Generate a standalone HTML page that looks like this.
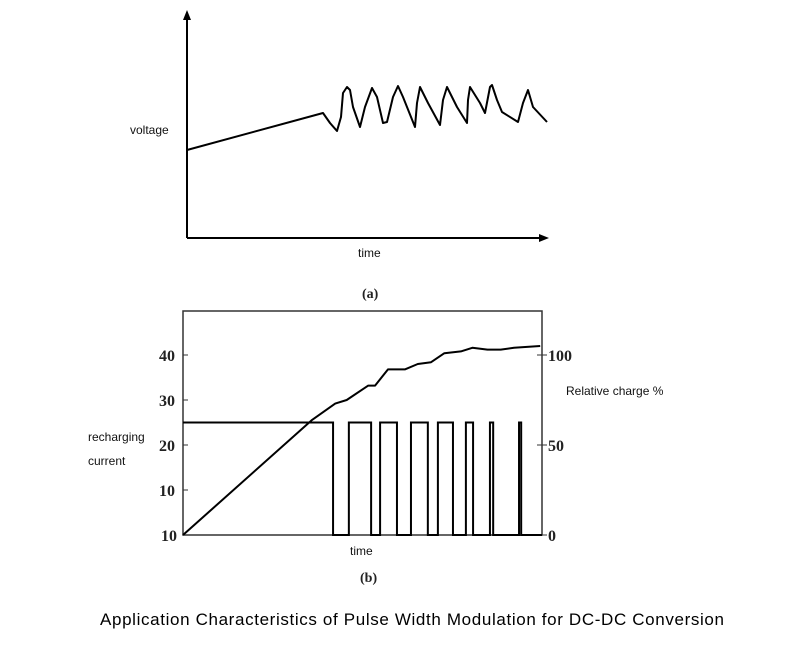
<!DOCTYPE html>
<html><head><meta charset="utf-8"><style>
body{margin:0;background:#fff;width:800px;height:657px;overflow:hidden}
svg{display:block}
.lbl{font-family:"Liberation Sans",sans-serif;font-size:12px;fill:#111}
.num{font-family:"Liberation Serif",serif;font-size:16px;font-weight:bold;fill:#222}
</style></head><body>
<svg id="c" width="800" height="657">
<g id="ga"></g>
<g id="gb"></g>
<text x="130" y="134" class="lbl">voltage</text>
<text x="358" y="257" class="lbl">time</text>
<text x="362" y="298" class="num" style="font-size:14px">(a)</text>
<text x="350" y="555" class="lbl">time</text>
<text x="88" y="441" class="lbl">recharging</text>
<text x="88" y="465" class="lbl">current</text>
<text x="566" y="395" class="lbl">Relative charge %</text>
<text x="360" y="582" class="num" style="font-size:14px">(b)</text>
<text x="412" y="625" text-anchor="middle" textLength="624" style="font-family:'Liberation Sans',sans-serif;font-size:17px;fill:#000">Application Characteristics of Pulse Width Modulation for DC-DC Conversion</text>
</svg>
<script>
// Panel (a) voltage trace
const aTime=[0,136,143,150,154,156,160,163,166,173,178,185,190,196,200,206,211,216,228,230,233,241,253,256,260,270,280,281,283,293,298,303,305,310,315,331,336,341,346,360];
const aVolt=[88,125,115,107,121,145,151,148,131,111,131,150,141,115,116,141,152,141,111,135,151,135,113,138,151,131,115,138,151,135,125,151,153,138,126,116,135,148,131,116];
// Panel (b)
const leftTicks=[40,30,20,10];
const rightTicks=[100,50,0];
const firstDrop=41.8;
const pulseStarts=[46.2,54.9,63.5,71.0,78.8,85.5,93.6];
const pulseEnds=[52.4,59.6,68.2,75.2,80.8,86.4,94.2];
const currentLevel=25;
const chargeTime=[0,36,42.4,45.6,51.6,53.5,57.1,61.8,65.4,69.1,72.8,77.4,80.6,84.8,88.5,92.2,99.5];
const chargeVal=[0,64,73,75,83,83,92,92,95,96,101,102,104,103,103,104,105];

const NS='http://www.w3.org/2000/svg';
function mk(p,t,a){const e=document.createElementNS(NS,t);for(const k in a)e.setAttribute(k,a[k]);p.appendChild(e);return e;}
const ga=document.getElementById('ga'), gb=document.getElementById('gb');
const xa=t=>187+t, ya=v=>238-v;
let e=mk(ga,'line',{x1:187,y1:238,x2:187,y2:14,stroke:'#000','stroke-width':2});

e=mk(ga,'line',{x1:187,y1:238,x2:544,y2:238,stroke:'#000','stroke-width':2});

e=mk(ga,'path',{d:'M549 238 L539 234 L539 242 Z',fill:'#000'});

e=mk(ga,'path',{d:'M187 10 L183 20 L191 20 Z',fill:'#000'});

e=mk(ga,'polyline',{points:aTime.map((t,i)=>xa(t)+','+ya(aVolt[i])).join(' '),fill:'none',stroke:'#000','stroke-width':2,'stroke-linejoin':'round'});

// panel b
const L=183,R=542,T=311,B=535;
const xb=t=>L+t/100*(R-L);
const yCur=v=>445-(v-20)*4.5;
const yr=v=>B-v*1.8;
e=mk(gb,'rect',{x:L,y:T,width:R-L,height:B-T,fill:'none',stroke:'#333','stroke-width':1.5});

leftTicks.forEach(v=>{const y=yCur(v);
 let t=mk(gb,'line',{x1:L,y1:y,x2:L+5,y2:y,stroke:'#333'});
 t=mk(gb,'text',{x:L-8,y:y+6,'text-anchor':'end',class:'num'});t.textContent=v;});
e=mk(gb,'text',{x:L-6,y:B+6,'text-anchor':'end',class:'num'});e.textContent='10';

rightTicks.forEach(v=>{const y=yr(v);
 let t=mk(gb,'line',{x1:R-5,y1:y,x2:R+5,y2:y,stroke:'#333'});
 t=mk(gb,'text',{x:R+6,y:y+6,class:'num'});t.textContent=v;});
const yc=yCur(currentLevel);
let d='M'+L+' '+yc+' L'+xb(firstDrop)+' '+yc+' L'+xb(firstDrop)+' '+B;
pulseStarts.forEach((s,i)=>{d+=' L'+xb(s)+' '+B+' L'+xb(s)+' '+yc+' L'+xb(pulseEnds[i])+' '+yc+' L'+xb(pulseEnds[i])+' '+B;});
d+=' L'+R+' '+B;
e=mk(gb,'path',{d:d,fill:'none',stroke:'#000','stroke-width':2});

e=mk(gb,'polyline',{points:chargeTime.map((t,i)=>xb(t)+','+yr(chargeVal[i])).join(' '),fill:'none',stroke:'#000','stroke-width':2,'stroke-linejoin':'round'});

</script>
</body></html>
